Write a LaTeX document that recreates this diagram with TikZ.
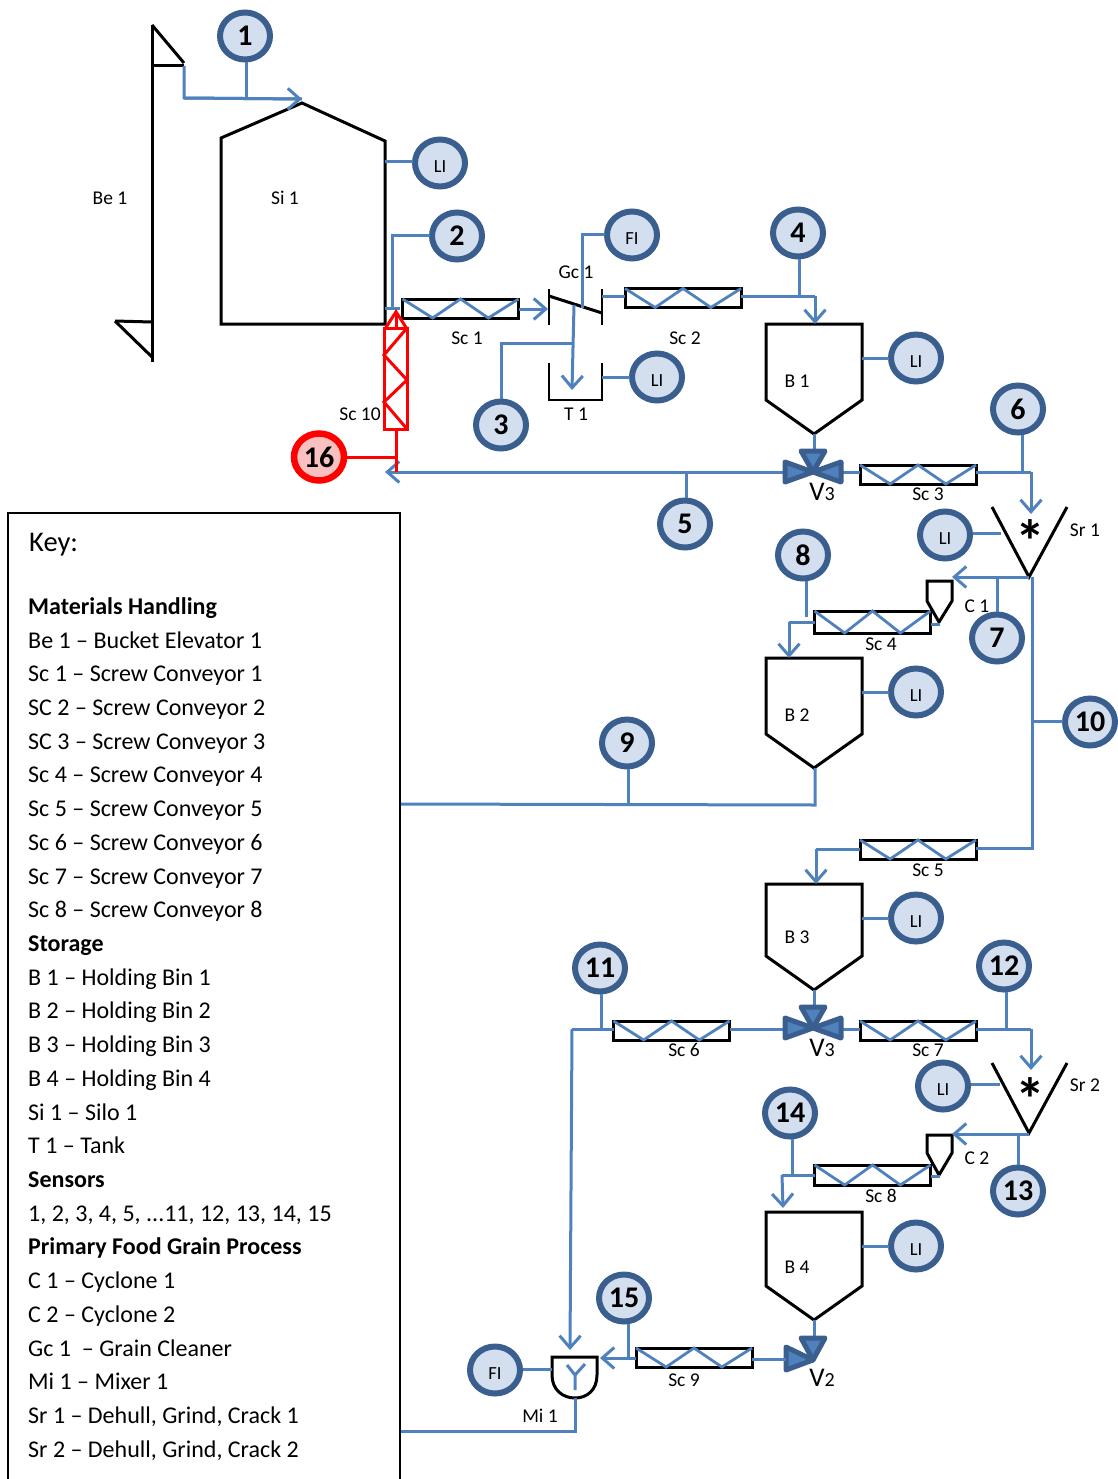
\documentclass[tikz,border=0pt]{standalone}
\usepackage{fontspec}
\setmainfont{Carlito}
\usetikzlibrary{shapes.geometric,arrows.meta,calc}
\definecolor{flowblue}{HTML}{4F81BD}
\definecolor{ringblue}{HTML}{3A5F8F}
\definecolor{paleblue}{HTML}{D3DEEE}
\definecolor{palered}{HTML}{F9C0C0}
\tikzset{
  flow/.style={draw=flowblue,line width=3pt,line join=miter},
  flowarrow/.style={flow,-{Straight Barb[length=12pt,width=21pt,line width=3pt]}},
  redflow/.style={draw=red,line width=3pt},
  blk/.style={draw=black,line width=3pt,line join=miter},
  sensorbase/.style={ellipse,line width=6pt,inner sep=0pt,outer sep=2.5pt,minimum width=50pt,minimum height=47pt},
  sensornum/.style={sensorbase,draw=ringblue,fill=paleblue,font=\fontsize{30}{30}\selectfont\bfseries},
  sensortag/.style={sensorbase,draw=ringblue,fill=paleblue,font=\fontsize{18.5}{18.5}\selectfont},
  alarm/.style={sensorbase,draw=red,line width=6.5pt,fill=palered,font=\fontsize{30}{30}\selectfont\bfseries},
  screwbox/.style={draw=black,line width=3pt,minimum width=116pt,minimum height=19pt,inner sep=0pt,outer sep=0pt},
  lbl/.style={font=\fontsize{19.5}{19.5}\selectfont,inner sep=0pt},
  valvelbl/.style={font=\fontsize{27}{27}\selectfont,inner sep=0pt},
  keyhead/.style={font=\fontsize{24}{24}\selectfont\bfseries,anchor=base west,inner sep=0pt,yshift=-7.5pt},
  keyline/.style={font=\fontsize{24}{24}\selectfont,anchor=base west,inner sep=0pt,yshift=-7.5pt},
  vtri/.style={draw=ringblue,fill=flowblue,line width=5pt,line join=round},
  starmark/.style={font=\fontsize{60}{60}\selectfont\bfseries,inner sep=0pt},
}
\newcommand{\zigzag}[1]{%
  \draw[flow,line width=2.8pt] (#1.north west) -- ($(#1.south west)!0.26!(#1.south east)$)
    -- ($(#1.north west)!0.5!(#1.north east)$) -- ($(#1.south west)!0.74!(#1.south east)$) -- (#1.north east);}
\newcommand{\vlab}[2]{{\fontsize{27}{27}\selectfont #1}{\fontsize{20}{20}\selectfont #2}}
\newcommand{\tagtxt}[1]{\raisebox{0pt}[\dimexpr\height+7pt\relax][\depth]{#1}}
% straight taps: from a point, horizontally or vertically to a node's anchor
\newcommand{\htap}[3]{\draw[flow] (#2,#3) -- (#2,#3 -| #1);}
\newcommand{\vtap}[3]{\draw[flow] (#2,#3) -- (#2,#3 |- #1);}
\newcommand{\threeway}[1]{%
  \begin{scope}[shift={(#1)}]
    \draw[vtri] (-28,-10) -- (-28,10) -- (0,0) -- cycle;
    \draw[vtri] (28,-10) -- (28,10) -- (0,0) -- cycle;
    \draw[vtri] (-12,-21) -- (12,-21) -- (0,0) -- cycle;
  \end{scope}}
\begin{document}
\begin{tikzpicture}[x=1pt,y=-1pt]
\useasboundingbox (0,0) rectangle (1117,1479);
\coordinate (v1) at (813,472);
\coordinate (v2) at (813,1028);
% Bucket elevator
\draw[blk] (152,25) -- (152,362);
\draw[blk] (152,25) -- (184,63);
\draw[blk] (152,66) -- (184,66);
\draw[blk] (115,321) -- (152,322);
\draw[blk] (115,321) -- (152,357);
\node[lbl] (be1) at (110,198) {Be 1};
% Silo
\draw[blk] (221,324) -- (221,138) -- (302,103) -- (385,141) -- (385,324) -- cycle;
\node[lbl] (si1) at (285,198) {Si 1};
\coordinate (sitop) at (302,99);
\coordinate (beout) at (184,66);
\coordinate (siout) at (392,308);
% Sensors
\node[sensornum] (s1) at (245,36) {1};
\node[sensortag] (lis) at (440,163) {\tagtxt{LI}};
\node[sensornum] (s2) at (457,236) {2};
\node[sensortag] (fi1) at (632,235) {\tagtxt{FI}};
\node[sensornum] (s4) at (798,233) {4};
\node[sensornum] (s3) at (501,425) {3};
\node[sensortag] (lit) at (657,377) {\tagtxt{LI}};
\node[sensortag] (lib1) at (916,358) {\tagtxt{LI}};
\node[sensornum] (s6) at (1018,409) {6};
\node[alarm] (s16) at (319,457) {16};
\node[sensornum] (s5) at (685,524) {5};
\node[sensortag] (lisr1) at (945,535) {\tagtxt{LI}};
\node[sensornum] (s8) at (803,555) {8};
\node[sensornum] (s7) at (997,638) {7};
\node[sensortag] (lib2) at (916,692) {\tagtxt{LI}};
\node[sensornum] (s9) at (627,743) {9};
\node[sensornum] (s10) at (1090,722) {10};
\node[sensortag] (lib3) at (916,918) {\tagtxt{LI}};
\node[sensornum] (s11) at (600,968) {11};
\node[sensornum] (s12) at (1004,966) {12};
\node[sensortag] (lisr2) at (943,1086) {\tagtxt{LI}};
\node[sensornum] (s14) at (790,1113) {14};
\node[sensornum] (s13) at (1018,1191) {13};
\node[sensortag] (lib4) at (916,1246) {\tagtxt{LI}};
\node[sensornum] (s15) at (624,1298) {15};
\node[sensortag] (fi2) at (495,1370) {\tagtxt{FI}};
% Screws
\node[screwbox] (sc1) at (460.5,308.5) {};
\node[screwbox] (sc2) at (683,298) {};
\node[screwbox] (sc3) at (918,474.5) {};
\node[screwbox,minimum height=22pt] (sc4) at (872.5,622) {};
\node[screwbox] (sc5) at (918,849.5) {};
\node[screwbox] (sc6) at (671.5,1030.5) {};
\node[screwbox] (sc7) at (918,1030.5) {};
\node[screwbox,minimum height=20pt] (sc8) at (872.5,1175) {};
\node[screwbox] (sc9) at (694,1357.5) {};
\foreach \s in {sc1,sc2,sc3,sc4,sc5,sc6,sc7,sc8,sc9}{\zigzag{\s}}
\node[lbl] at (467,338) {Sc 1};
\node[lbl] at (685,338) {Sc 2};
\node[lbl] at (928,494) {Sc 3};
\node[lbl] at (881,644) {Sc 4};
\node[lbl] at (928,870) {Sc 5};
\node[lbl] at (684,1050) {Sc 6};
\node[lbl] at (928,1050) {Sc 7};
\node[lbl] at (881,1196) {Sc 8};
\node[lbl] at (684,1380) {Sc 9};
% Grain cleaner and tank
\draw[blk,line width=2pt] (549,289) -- (549,325);
\draw[blk,line width=2pt] (602,289) -- (602,325);
\draw[blk] (549,296) -- (602,313);
\node[lbl] at (576,272) {Gc 1};
\coordinate (gcout) at (602,296);
\coordinate (gcmid) at (582,308);
\coordinate (gctap) at (574,305);
\draw[blk,line width=2pt] (549,363) -- (549,400) -- (602,400) -- (602,363);
\node[lbl] at (576,414) {T 1};
\coordinate (tankin) at (572,390);
\coordinate (tap3) at (573,343);
% Bins
\foreach \t/\n/\b in {324/1/400, 658/2/734, 884/3/956, 1212/4/1286}{
  \draw[blk] (766,\t) -- (862,\t) -- (862,\b) -- (814,\b+34) -- (766,\b) -- cycle;
  \node[lbl] at (797,\b-18.5) {B \n};
}
% Grinders
\draw[blk] (992,507) -- (1029,577) -- (1067,507);
\node[starmark] at (1030,541) {*};
\node[lbl] at (1085,530) {Sr 1};
\draw[blk] (992,1063) -- (1029,1133) -- (1067,1063);
\node[starmark] at (1030,1099) {*};
\node[lbl] at (1085,1085) {Sr 2};
% Cyclones
\draw[blk] (927,581) -- (952,581) -- (952,601) -- (939,622) -- (927,601) -- cycle;
\node[lbl] at (977,606) {C 1};
\draw[blk] (927,1135) -- (952,1135) -- (952,1153) -- (939,1175) -- (927,1153) -- cycle;
\node[lbl] at (977,1158) {C 2};
% Mixer
\draw[blk] (552,1357) -- (597,1357) -- (597,1375) .. controls (597,1390) and (587,1398) .. (575,1398) .. controls (563,1398) and (552,1390) .. (552,1375) -- cycle;
\node[lbl] at (540,1416) {Mi 1};
\draw[flow] (575,1390) -- (575,1375) -- (567,1365);
\draw[flow] (575,1375) -- (585,1364);
% Flows top
\draw[flow] (beout) -- (184,98) -- (sitop);
\draw[flowarrow] (184,98) -- (sitop);
\vtap{s1.south}{246}{99}
\htap{lis.west}{385}{162}
\draw[flow] (s2.west) -- (392,236 |- s2.west) -- (siout);
\draw[flow] (385,308) -- (400,308);
\draw[flowarrow] (519,309) -- (548,309);
\htap{sc2.west}{602}{296}
\draw[flow] (fi1.west) -- (582,235 |- fi1.west) -- (gcmid);
\draw[flowarrow] (gctap) -- (tankin);
\draw[flow] (s3.north) -- (501,343) -- (tap3);
\htap{lit.west}{602}{377}
\htap{sc2.east}{815}{296}
\draw[flowarrow] (815,296) -- (815,324);
\vtap{s4.south}{799}{296}
\htap{lib1.west}{862}{358}
% Bin 1 to valve and onward
\draw[flow] (814,434) -- (814,452);
\draw[flowarrow] (v1) -- (385,472);
\vtap{s5.north}{686}{472}
\htap{sc3.west}{842}{472}
\htap{sc3.east}{1031}{472}
\draw[flowarrow] (1031,472) -- (1031,514);
\vtap{s6.south}{1022}{472}
\threeway{v1}
\node[valvelbl] at (822,492) {\vlab{V}{3}};
% Sc10
\node[screwbox,draw=red,minimum width=23pt,minimum height=101pt] (sc10) at (395.5,378.5) {};
\draw[redflow] (sc10.north east) -- (384,355) -- (407,380) -- (384,402) -- (sc10.south east);
\draw[draw=red,line width=3pt,-{Straight Barb[length=18pt,width=23pt,line width=3pt]}] (396,330) -- (396,309);
\draw[redflow] (396,429) -- (396,472);
\draw[redflow] (s16.east) -- (396,457);
\node[lbl] at (360,414) {Sc 10};
% Sr1 stage
\htap{lisr1.east}{1001}{533}
\draw[flowarrow] (1029,577) -- (952,577);
\vtap{s7.north}{997}{577}
\draw[flow] (1032,577) -- (1032,848) -- (976,848);
\htap{s10.west}{1032}{721}
\htap{sc4.east}{940}{624}
\draw[flow] (sc4.west) -- (789,622);
\draw[flowarrow] (789,622) -- (789,658);
\vtap{s8.south}{806}{617}
\htap{lib2.west}{862}{692}
% Line 9
\draw[flow] (400,804) -- (815,805) -- (815,768);
\vtap{s9.south}{628}{804}
% Sc5 to B3
\draw[flow] (sc5.west) -- (816,849.5);
\draw[flowarrow] (816,849) -- (816,884);
\htap{lib3.west}{862}{918}
% Second valve
\draw[flow] (814,990) -- (814,1008);
\htap{sc6.east}{784}{1029}
\htap{sc6.west}{572}{1029}
\draw[flowarrow] (572,1029) -- (570,1350);
\vtap{s11.south}{601}{1029}
\htap{sc7.west}{842}{1029}
\htap{sc7.east}{1031}{1029}
\draw[flowarrow] (1031,1029) -- (1031,1070);
\vtap{s12.south}{1006}{1028}
\threeway{v2}
\node[valvelbl] at (822,1048) {\vlab{V}{3}};
% Sr2 stage
\htap{lisr2.east}{1000}{1084}
\draw[flowarrow] (1029,1134) -- (952,1134);
\vtap{s13.north}{1018}{1134}
\htap{sc8.east}{940}{1176}
\htap{sc8.west}{782}{1175}
\draw[flowarrow] (782,1175) -- (783,1208);
\vtap{s14.south}{792}{1175}
\htap{lib4.west}{862}{1246}
% V2
\draw[flow] (814,1320) -- (814,1338);
\draw[vtri] (786,1347) -- (786,1370) -- (813,1360) -- cycle;
\draw[vtri] (801,1338) -- (825,1338) -- (813,1360) -- cycle;
\node[valvelbl] at (822,1378) {\vlab{V}{2}};
\htap{sc9.east}{786}{1359}
\draw[flowarrow] (636,1358) -- (600,1358);
\vtap{s15.south}{628}{1358}
\htap{fi2.east}{552}{1369}
\draw[flow] (575,1398) -- (575,1431) -- (400,1431);
% Key
\draw[draw=black,line width=2pt] (8,1490) -- (8,513) -- (400,513) -- (400,1490);
\node[font=\fontsize{28.5}{28.5}\selectfont,anchor=base west,inner sep=0pt] at (29,551) {Key:};
\node[keyhead] at (28,607) {Materials Handling};
\node[keyline] at (28,641) {Be 1 – Bucket Elevator 1};
\node[keyline] at (28,674) {Sc 1 – Screw Conveyor 1};
\node[keyline] at (28,708) {SC 2 – Screw Conveyor 2};
\node[keyline] at (28,742) {SC 3 – Screw Conveyor 3};
\node[keyline] at (28,775) {Sc 4 – Screw Conveyor 4};
\node[keyline] at (28,809) {Sc 5 – Screw Conveyor 5};
\node[keyline] at (28,843) {Sc 6 – Screw Conveyor 6};
\node[keyline] at (28,877) {Sc 7 – Screw Conveyor 7};
\node[keyline] at (28,910) {Sc 8 – Screw Conveyor 8};
\node[keyhead] at (28,944) {Storage};
\node[keyline] at (28,978) {B 1 – Holding Bin 1};
\node[keyline] at (28,1011) {B 2 – Holding Bin 2};
\node[keyline] at (28,1045) {B 3 – Holding Bin 3};
\node[keyline] at (28,1079) {B 4 – Holding Bin 4};
\node[keyline] at (28,1113) {Si 1 – Silo 1};
\node[keyline] at (28,1146) {T 1 – Tank};
\node[keyhead] at (28,1180) {Sensors};
\node[keyline] at (28,1214) {1, 2, 3, 4, 5, ...11, 12, 13, 14, 15};
\node[keyhead] at (28,1247) {Primary Food Grain Process};
\node[keyline] at (28,1281) {C 1 – Cyclone 1};
\node[keyline] at (28,1315) {C 2 – Cyclone 2};
\node[keyline] at (28,1349) {Gc 1\ \ – Grain Cleaner};
\node[keyline] at (28,1382) {Mi 1 – Mixer 1};
\node[keyline] at (28,1416) {Sr 1 – Dehull, Grind, Crack 1};
\node[keyline] at (28,1450) {Sr 2 – Dehull, Grind, Crack 2};
\end{tikzpicture}
\end{document}
